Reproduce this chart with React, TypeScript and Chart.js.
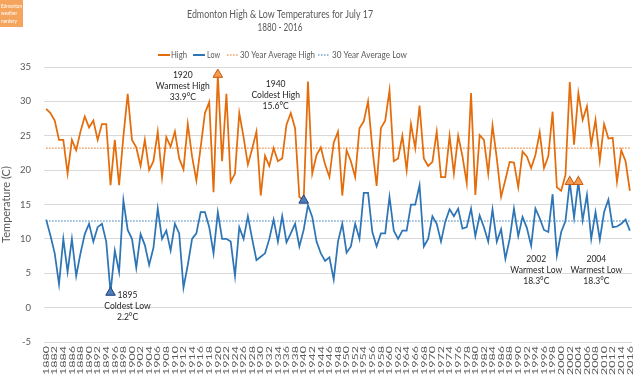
import React, { useEffect, useRef } from "react";
import { Chart, registerables } from "chart.js";

Chart.register(...registerables);

const FIRST_YEAR = 1880;
const LAST_YEAR = 2016;
const years: string[] = [];
for (let y = FIRST_YEAR; y <= LAST_YEAR; y++) years.push(String(y));

// Daily high (°C) for July 17, 1880 - 2016
const highTemps: number[] = [
  28.9, 28.3, 27.2, 24.4, 24.4, 19.5, 24.4, 22.9, 25.6, 27.8, // 1880s
  26.2, 27.2, 24.4, 26.7, 26.7, 17.8, 24.4, 17.8, 24.9, 31.1, // 1890s
  24.4, 23.3, 20.6, 24.4, 20.0, 21.3, 25.6, 19.0, 24.8, 23.4, // 1900s
  25.6, 21.7, 20.1, 26.7, 22.0, 18.5, 23.3, 28.3, 29.9, 16.8, // 1910s
  33.9, 21.3, 31.1, 18.3, 19.5, 28.3, 24.8, 20.8, 23.1, 25.6, // 1920s
  16.3, 22.1, 20.6, 23.2, 21.3, 21.7, 26.6, 28.3, 26.1, 16.1, // 1930s
  15.6, 32.9, 19.5, 22.2, 23.3, 20.8, 19.0, 24.0, 25.6, 16.3, // 1940s
  22.9, 21.3, 19.0, 26.1, 27.1, 30.0, 23.2, 17.7, 26.1, 27.2, // 1950s
  31.6, 21.3, 21.7, 25.0, 20.0, 26.7, 23.2, 29.4, 21.7, 20.6, // 1960s
  21.2, 25.6, 19.0, 19.0, 25.0, 19.5, 25.0, 22.0, 18.1, 31.2, // 1970s
  16.4, 25.1, 24.4, 19.5, 26.5, 21.7, 16.1, 18.6, 21.2, 21.1, // 1980s
  17.5, 22.7, 22.0, 20.3, 22.2, 25.5, 20.3, 22.0, 28.5, 17.5, // 1990s
  17.0, 19.3, 32.8, 23.7, 31.2, 27.3, 29.3, 23.7, 27.3, 21.4, // 2000s
  26.7, 24.6, 24.7, 18.3, 22.9, 21.3, 17.0, // 2010s
];

// Daily low (°C) for July 17, 1880 - 2016
const lowTemps: number[] = [
  12.8, 10.5, 7.9, 3.4, 10.0, 5.2, 10.0, 4.6, 7.9, 10.7, // 1880s
  12.2, 9.6, 11.7, 12.2, 9.6, 2.2, 8.3, 5.2, 15.6, 11.3, // 1890s
  10.0, 5.8, 10.7, 9.1, 6.2, 8.7, 14.4, 10.0, 11.2, 8.3, // 1900s
  12.2, 10.8, 2.9, 6.2, 10.0, 10.8, 13.9, 13.9, 11.7, 7.9, // 1910s
  13.9, 10.0, 10.0, 9.6, 4.6, 11.7, 10.0, 13.3, 10.0, 6.9, // 1920s
  7.4, 7.9, 10.0, 12.8, 9.6, 13.3, 9.5, 10.8, 12.2, 8.9, // 1930s
  11.3, 14.9, 13.2, 9.6, 7.9, 6.8, 7.3, 4.1, 9.6, 12.2, // 1940s
  8.0, 8.9, 12.2, 10.0, 16.7, 16.7, 11.0, 8.9, 10.8, 10.8, // 1950s
  16.1, 11.2, 10.0, 11.2, 11.2, 15.0, 15.0, 17.8, 8.9, 10.0, // 1960s
  13.3, 12.2, 9.6, 12.5, 14.3, 13.3, 14.4, 11.5, 11.7, 14.4, // 1970s
  10.4, 13.4, 11.7, 9.6, 14.3, 9.6, 11.4, 7.1, 10.0, 14.4, // 1980s
  10.4, 13.2, 11.6, 9.0, 14.4, 13.0, 11.3, 11.0, 16.5, 7.6, // 1990s
  11.0, 12.6, 18.3, 13.1, 18.3, 12.7, 16.4, 10.0, 13.9, 9.9, // 2000s
  13.9, 15.7, 11.7, 11.8, 12.2, 12.8, 11.2, // 2010s
];

const AVG_HIGH = 23.2; // 30 year average high
const AVG_LOW = 12.6; // 30 year average low

// Record annotations
const recordYears: number[] = [1895, 1920, 1940, 2002, 2004];
const recordValues: number[] = [2.2, 33.9, 15.6, 18.3, 18.3];
const recordKinds: string[] = ["cold", "warm", "cold", "warm", "warm"];
const recordTitles: string[] = ["Coldest Low", "Warmest High", "Coldest High", "Warmest Low", "Warmest Low"];

const TITLE = "Edmonton High & Low Temperatures for July 17";
const SUBTITLE = "1880 - 2016";
const legendLabels: string[] = ["High", "Low", "30 Year Average High", "30 Year Average Low"];

const HIGH_COLOR = "#E46C0A";
const LOW_COLOR = "#2E75B6";
const TEXT_COLOR = "#595959";
const FONT = "Lato";

// label box offsets relative to the record marker (layout only)
const labelOffsets: [number, number][] = [
  [17, 2.2],
  [-35, 0],
  [-28, -116.7],
  [-33.5, 77],
  [18, 77],
];

function fitText(
  ctx: CanvasRenderingContext2D,
  text: string,
  x: number,
  y: number,
  size: number,
  width: number | null,
  color: string,
  align: CanvasTextAlign = "center",
  sx = 1
) {
  ctx.save();
  ctx.font = `${size}px ${FONT}`;
  ctx.fillStyle = color;
  ctx.textAlign = align;
  ctx.textBaseline = "middle";
  const w = ctx.measureText(text).width;
  const s = width ? width / w : sx;
  ctx.translate(x, y);
  ctx.scale(s, 1);
  ctx.fillText(text, 0, 0);
  ctx.restore();
}

const overlayPlugin = {
  id: "overlay",
  afterDraw(chart: any) {
    const ctx: CanvasRenderingContext2D = chart.ctx;
    const xs = chart.scales.x;
    const ys = chart.scales.y;

    // logo box
    ctx.save();
    ctx.fillStyle = "#F5A45D";
    ctx.fillRect(0, 0, 23, 27);
    ctx.restore();
    fitText(ctx, "Edmonton", 1, 6, 6, 21, "#FFFFFF", "left");
    fitText(ctx, "weather", 1, 13.3, 6, 16, "#FFFFFF", "left");
    fitText(ctx, "nerdery", 1, 20.7, 6, 16, "#FFFFFF", "left");

    // title
    fitText(ctx, TITLE, 280, 14, 11, 186, TEXT_COLOR);
    fitText(ctx, SUBTITLE, 280, 27.5, 11, 45, TEXT_COLOR);

    // legend
    const ly = 55;
    const items = [
      { x0: 158, x1: 170, tx: 171, w: 16, color: HIGH_COLOR, dash: [] as number[] },
      { x0: 193, x1: 205, tx: 207, w: 13, color: LOW_COLOR, dash: [] as number[] },
      { x0: 227, x1: 238, tx: 240, w: 75, color: HIGH_COLOR, dash: [1.5, 1.5] },
      { x0: 318, x1: 330, tx: 332, w: 75, color: LOW_COLOR, dash: [1.5, 1.5] },
    ];
    items.forEach((it, i) => {
      ctx.save();
      ctx.strokeStyle = it.color;
      ctx.lineWidth = it.dash.length ? 1 : 2;
      ctx.setLineDash(it.dash);
      ctx.beginPath();
      ctx.moveTo(it.x0, ly);
      ctx.lineTo(it.x1, ly);
      ctx.stroke();
      ctx.restore();
      fitText(ctx, legendLabels[i], it.tx, ly, 10, it.w, TEXT_COLOR, "left");
    });

    // x axis year labels (every other year), placed by the category scale
    ctx.save();
    ctx.font = `12.5px ${FONT}`;
    ctx.fillStyle = TEXT_COLOR;
    ctx.textAlign = "right";
    ctx.textBaseline = "middle";
    const top = chart.chartArea.bottom + 4;
    years.forEach((label, i) => {
      if (i % 2 !== 0) return;
      const px = xs.getPixelForValue(i);
      ctx.save();
      ctx.translate(px, top);
      ctx.rotate(-Math.PI / 2);
      ctx.scale(1, 0.68);
      ctx.fillText(label, 0, 0);
      ctx.restore();
    });
    ctx.restore();

    // record annotations
    recordYears.forEach((yr, i) => {
      const px = xs.getPixelForValue(yr - FIRST_YEAR);
      const py = ys.getPixelForValue(recordValues[i]);
      const cx = px + labelOffsets[i][0];
      const cy = py + labelOffsets[i][1];
      const lines = [String(yr), recordTitles[i], `${recordValues[i]}°C`];
      lines.forEach((t, j) => {
        fitText(ctx, t, cx, cy + j * 11.3, 9.5, null, "#262626", "center", 0.9);
      });
    });
  },
};

export default function App() {
  const ref = useRef<HTMLCanvasElement | null>(null);

  useEffect(() => {
    if (!ref.current) return;
    const recordSeries = (kind: string) =>
      years.map((y) => {
        const k = recordYears.indexOf(Number(y));
        return k >= 0 && recordKinds[k] === kind ? recordValues[k] : null;
      });

    const chart = new Chart(ref.current, {
      type: "line",
      data: {
        labels: years,
        datasets: [
          {
            label: legendLabels[0],
            data: highTemps,
            borderColor: HIGH_COLOR,
            borderWidth: 1.75,
            pointRadius: 0,
            tension: 0,
            order: 2,
          },
          {
            label: legendLabels[1],
            data: lowTemps,
            borderColor: LOW_COLOR,
            borderWidth: 1.75,
            pointRadius: 0,
            tension: 0,
            order: 2,
          },
          {
            label: legendLabels[2],
            data: years.map(() => AVG_HIGH),
            borderColor: HIGH_COLOR,
            borderWidth: 1,
            borderDash: [1.5, 1.5],
            pointRadius: 0,
            order: 3,
          },
          {
            label: legendLabels[3],
            data: years.map(() => AVG_LOW),
            borderColor: LOW_COLOR,
            borderWidth: 1,
            borderDash: [1.5, 1.5],
            pointRadius: 0,
            order: 3,
          },
          {
            label: "Warm records",
            data: recordSeries("warm"),
            showLine: false,
            pointStyle: "triangle",
            pointRadius: 5.5,
            backgroundColor: "#F79A4D",
            borderColor: "#C55A11",
            borderWidth: 1,
            order: 0,
          },
          {
            label: "Cold records",
            data: recordSeries("cold"),
            showLine: false,
            pointStyle: "triangle",
            pointRadius: 5.5,
            backgroundColor: "#4A7EC0",
            borderColor: "#1F3F73",
            borderWidth: 1,
            order: 0,
          },
        ],
      },
      options: {
        animation: false,
        responsive: false,
        maintainAspectRatio: false,
        layout: { padding: { top: 67, right: 8, left: 0, bottom: 0 } },
        plugins: {
          legend: { display: false },
          title: { display: false },
          tooltip: { enabled: false },
        },
        scales: {
          x: {
            type: "category",
            offset: true,
            grid: { display: false, drawTicks: false },
            border: { display: false },
            ticks: { display: false },
            afterFit: (s: any) => {
              s.height = 46;
            },
          },
          y: {
            min: -5,
            max: 35,
            ticks: {
              stepSize: 5,
              padding: 13,
              color: TEXT_COLOR,
              font: { family: FONT, size: 9.5 },
            },
            grid: { color: "#D9D9D9", drawTicks: false, lineWidth: 1 },
            border: { display: false },
            title: {
              display: true,
              text: "Temperature (C)",
              color: TEXT_COLOR,
              font: { family: FONT, size: 11 },
              padding: 0,
            },
            afterFit: (s: any) => {
              s.width = 44;
            },
          },
        },
      },
      plugins: [overlayPlugin],
    });
    return () => chart.destroy();
  }, []);

  return (
    <div style={{ position: "fixed", left: 0, top: 0, width: 640, height: 388, background: "#fff" }}>
      <canvas ref={ref} width={640} height={388} style={{ display: "block" }} />
    </div>
  );
}
